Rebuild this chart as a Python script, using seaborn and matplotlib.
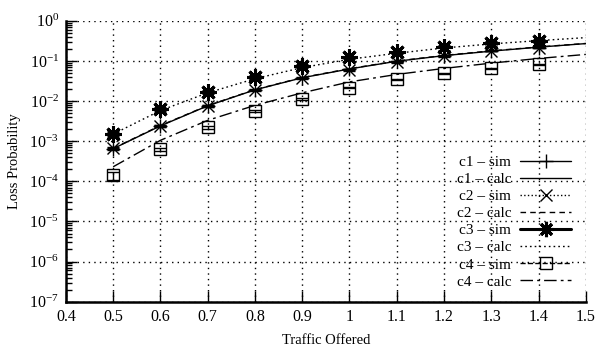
import matplotlib
matplotlib.use("Agg")
import matplotlib.pyplot as plt
import seaborn as sns
from matplotlib.lines import Line2D
from matplotlib.ticker import FixedLocator, FuncFormatter, LogLocator, NullFormatter

# ---------------------------------------------------------------------------
# Données
# ---------------------------------------------------------------------------
load_sim = [0.5, 0.6, 0.7, 0.8, 0.9, 1.0, 1.1, 1.2, 1.3, 1.4]
load_calc = [0.5, 0.6, 0.7, 0.8, 0.9, 1.0, 1.1, 1.2, 1.3, 1.4, 1.5]

c1_sim = [6.3e-4, 2.4e-3, 7.6e-3, 1.9e-2, 3.8e-2, 6.3e-2, 9.8e-2, 0.135, 0.175, 0.215]
c1_err = [4e-5, 1e-4, 3e-4, 6e-4, 1e-3, 1.5e-3, 2e-3, 2.5e-3, 3e-3, 3.5e-3]
c1_calc = [6.5e-4, 2.4e-3, 7.6e-3, 1.9e-2, 3.8e-2, 6.3e-2, 9.8e-2, 0.135, 0.175, 0.22, 0.27]

c2_sim = [6.8e-4, 2.4e-3, 7.5e-3, 1.87e-2, 3.67e-2, 5.9e-2, 9.3e-2, 0.13, 0.18, 0.215]
c2_err = [4e-5, 1e-4, 3e-4, 6e-4, 1e-3, 1.5e-3, 2e-3, 2.5e-3, 3e-3, 3.5e-3]
c2_calc = [6.6e-4, 2.45e-3, 7.7e-3, 1.92e-2, 3.85e-2, 6.4e-2, 9.9e-2, 0.137, 0.178, 0.222, 0.272]

c3_sim = [1.5e-3, 6.2e-3, 1.7e-2, 4.0e-2, 7.6e-2, 0.122, 0.163, 0.225, 0.28, 0.32]
c3_err = [2e-4, 5e-4, 1.2e-3, 2.5e-3, 4e-3, 5e-3, 6e-3, 7e-3, 8e-3, 9e-3]
c3_calc = [1.5e-3, 5.8e-3, 1.6e-2, 3.6e-2, 6.8e-2, 0.11, 0.155, 0.21, 0.265, 0.32, 0.38]

c4_sim = [1.4e-4, 6.3e-4, 2.2e-3, 5.7e-3, 1.14e-2, 2.14e-2, 3.5e-2, 4.9e-2, 6.5e-2, 8.3e-2]
c4_err = [3e-5, 6e-5, 1.5e-4, 3e-4, 5e-4, 8e-4, 1.2e-3, 1.5e-3, 2e-3, 2.5e-3]
c4_calc = [2.3e-4, 1.05e-3, 3.3e-3, 7.8e-3, 1.6e-2, 3.0e-2, 4.6e-2, 6.5e-2, 8.8e-2, 0.115, 0.145]

x_ticks = [0.4, 0.5, 0.6, 0.7, 0.8, 0.9, 1.0, 1.1, 1.2, 1.3, 1.4, 1.5]
labels = ["c1 – sim", "c1 – calc", "c2 – sim", "c2 – calc",
          "c3 – sim", "c3 – calc", "c4 – sim", "c4 – calc"]

# ---------------------------------------------------------------------------
# Style
# ---------------------------------------------------------------------------
sns.set_theme(style="ticks")
plt.rcParams.update({
    "font.family": ["Liberation Serif", "DejaVu Serif"],
    "font.size": 11,
    "mathtext.fontset": "stix",
    "axes.linewidth": 1.8,
    "axes.edgecolor": "black",
    "xtick.direction": "in",
    "ytick.direction": "in",
    "xtick.color": "black",
    "ytick.color": "black",
    "text.color": "black",
    "axes.labelcolor": "black",
})

fig = plt.figure(figsize=(5.99, 3.46), dpi=100)
ax = fig.add_axes([0.110, 0.128, 0.868, 0.812])

# ---------------------------------------------------------------------------
# Courbes
# ---------------------------------------------------------------------------
ax.errorbar(load_sim, c1_sim, yerr=c1_err, fmt="none", ecolor="black",
            elinewidth=1, capsize=4, capthick=1)
ax.plot(load_sim, c1_sim, ls="none", marker="+", ms=10, mew=1, color="black")
sns.lineplot(x=load_calc, y=c1_calc, ax=ax, color="black", lw=1, linestyle="-")
h1c = ax.lines[-1]

ax.errorbar(load_sim, c2_sim, yerr=c2_err, fmt="x", color="black", ms=9,
            mew=1, elinewidth=1, capsize=4, capthick=1)
sns.lineplot(x=load_calc, y=c2_calc, ax=ax, color="black", lw=1, linestyle="--")
h2c = ax.lines[-1]
h2c.set_dashes((4, 3))

ax.errorbar(load_sim, c3_sim, yerr=c3_err, fmt="none", ecolor="black",
            elinewidth=2.2, capsize=4, capthick=2.2)
ax.plot(load_sim, c3_sim, ls="none", marker=(8, 2, 0), ms=12, mew=2.2, color="black")
sns.lineplot(x=load_calc, y=c3_calc, ax=ax, color="black", lw=1, linestyle=":")
h3c = ax.lines[-1]
h3c.set_dashes((1.2, 2.2))

ax.errorbar(load_sim, c4_sim, yerr=c4_err, fmt="s", color="black", ms=9,
            mfc="none", mew=1, elinewidth=1, capsize=4, capthick=1)
sns.lineplot(x=load_calc, y=c4_calc, ax=ax, color="black", lw=1, linestyle="-.")
h4c = ax.lines[-1]
h4c.set_dashes((9, 3, 2, 3))

# ---------------------------------------------------------------------------
# Axes
# ---------------------------------------------------------------------------
ax.set_yscale("log")
ax.set_xlim(0.4, 1.5)
ax.set_ylim(1e-7, 1)
ax.xaxis.set_major_locator(FixedLocator(x_ticks))
ax.xaxis.set_major_formatter(FuncFormatter(lambda v, p: f"{v:g}"))
ax.yaxis.set_major_locator(LogLocator(base=10, numticks=20))
ax.yaxis.set_minor_locator(LogLocator(base=10, subs=range(2, 10), numticks=20))
ax.yaxis.set_minor_formatter(NullFormatter())
ax.tick_params(axis="both", which="major", length=8, width=1, labelsize=11.5, pad=5)
ax.tick_params(axis="y", which="minor", length=4, width=1)
ax.tick_params(top=False, right=False)

for side in ("top", "right"):
    ax.spines[side].set_visible(False)
ax.grid(True, which="major", color="black", linestyle=(0, (1, 3)), linewidth=1)
ax.set_axisbelow(True)

ax.set_xlabel("Traffic Offered", fontsize=10.5, labelpad=7)
ax.set_ylabel("Loss Probability", fontsize=10.5, labelpad=6)

# ---------------------------------------------------------------------------
# Légende (texte à gauche, échantillon à droite)
# ---------------------------------------------------------------------------
proxy1 = Line2D([], [], color="black", lw=1, marker="+", ms=10)
proxy2 = Line2D([], [], color="black", lw=1, linestyle=":", marker="x", ms=9)
proxy3 = Line2D([], [], color="black", lw=2.2, marker=(8, 2, 0), ms=11, mew=2.2)
proxy4 = Line2D([], [], color="black", lw=1, linestyle="--", marker="s", ms=9,
                mfc="none")
handles = [proxy1, h1c, proxy2, h2c, proxy3, h3c, proxy4, h4c]
ax.legend(handles, labels, loc="lower right", bbox_to_anchor=(0.983, 0.025),
          frameon=False, markerfirst=False, handlelength=3.3,
          labelspacing=0.22, handletextpad=0.6, borderaxespad=0,
          fontsize=11)

fig.savefig("out.png", dpi=100)
